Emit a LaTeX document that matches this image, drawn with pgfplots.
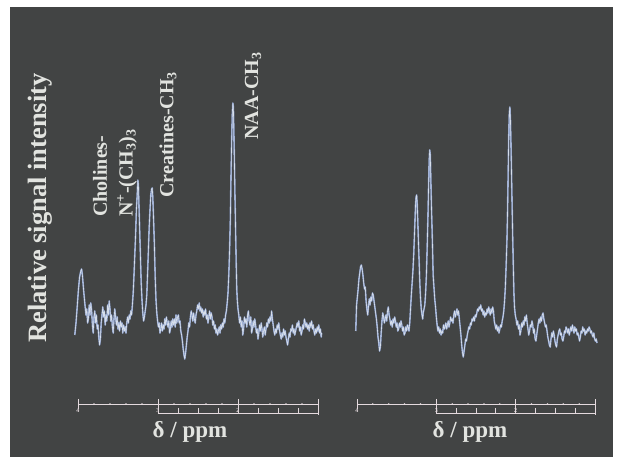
\documentclass[border=0pt]{standalone}
\usepackage{fontspec}
\setmainfont{Liberation Serif}
\usepackage{pgfplots}
\pgfplotsset{compat=1.18}
\usepackage{pgfplotstable}

\definecolor{bg}{RGB}{66,68,68}
\definecolor{txt}{RGB}{226,228,224}
\definecolor{trace}{RGB}{135,155,200}
\definecolor{traceHi}{RGB}{214,222,234}
\definecolor{rul}{RGB}{228,218,222}

% spectrum 1 (left): delta in ppm, intensity in arbitrary units
\pgfplotstableread{
ppm I
4.040 10
4.025 22
4.010 38
3.995 55
3.980 68
3.965 74
3.955 76
3.945 70
3.930 55
3.915 42
3.900 30
3.890 36
3.880 22
3.870 26
3.860 40
3.850 30
3.840 42
3.830 35
3.820 20
3.810 12
3.800 28
3.790 34
3.780 22
3.770 30
3.760 16
3.750 20
3.740 8
3.730 0
3.720 6
3.710 22
3.700 30
3.690 38
3.680 28
3.670 34
3.660 20
3.650 30
3.640 24
3.630 40
3.620 30
3.610 44
3.600 36
3.590 24
3.580 30
3.570 18
3.560 12
3.550 26
3.540 36
3.530 28
3.520 20
3.510 28
3.500 16
3.490 22
3.480 14
3.470 24
3.460 18
3.450 22
3.440 12
3.430 20
3.420 14
3.410 18
3.400 12
3.390 22
3.380 28
3.370 22
3.360 30
3.350 26
3.340 34
3.330 30
3.320 40
3.310 52
3.300 70
3.290 90
3.280 110
3.270 135
3.260 150
3.252 165
3.245 160
3.238 140
3.230 118
3.220 90
3.210 62
3.200 45
3.190 32
3.180 24
3.170 28
3.160 34
3.150 40
3.140 50
3.130 72
3.120 95
3.110 118
3.100 135
3.090 150
3.080 156
3.072 157
3.065 148
3.055 125
3.045 100
3.035 68
3.025 45
3.015 32
3.005 24
2.995 18
2.985 22
2.975 12
2.965 16
2.955 22
2.945 14
2.935 20
2.925 16
2.915 26
2.905 20
2.895 28
2.885 22
2.875 18
2.865 24
2.855 12
2.845 16
2.835 24
2.825 18
2.815 26
2.805 20
2.795 26
2.785 18
2.775 30
2.765 22
2.755 28
2.745 30
2.735 22
2.725 24
2.715 14
2.705 10
2.695 4
2.685 -4
2.675 -10
2.665 -14
2.655 -8
2.645 0
2.635 8
2.625 14
2.615 22
2.605 18
2.595 28
2.585 34
2.575 30
2.565 24
2.555 32
2.545 26
2.535 22
2.525 30
2.515 34
2.505 40
2.495 36
2.485 42
2.475 34
2.465 38
2.455 32
2.445 36
2.435 28
2.425 34
2.415 30
2.405 36
2.395 26
2.385 30
2.375 22
2.365 28
2.355 34
2.345 26
2.335 32
2.325 28
2.315 20
2.305 24
2.295 16
2.285 20
2.275 12
2.265 16
2.255 10
2.245 14
2.235 18
2.225 12
2.215 20
2.205 16
2.195 22
2.185 18
2.175 26
2.165 22
2.155 30
2.145 34
2.135 42
2.125 52
2.115 70
2.105 95
2.095 128
2.088 165
2.080 200
2.072 230
2.064 242
2.058 238
2.052 215
2.045 185
2.038 150
2.030 115
2.022 80
2.015 55
2.008 44
2.000 36
1.990 30
1.980 22
1.970 28
1.960 18
1.950 24
1.940 10
1.930 16
1.920 28
1.910 22
1.900 26
1.890 18
1.880 30
1.870 34
1.860 24
1.850 20
1.840 28
1.830 12
1.820 16
1.810 24
1.800 18
1.790 26
1.780 20
1.770 12
1.760 16
1.750 6
1.740 12
1.730 20
1.720 14
1.710 22
1.700 16
1.690 8
1.680 14
1.670 18
1.660 10
1.650 16
1.640 22
1.630 18
1.620 26
1.610 22
1.600 28
1.590 24
1.580 34
1.570 26
1.560 20
1.550 14
1.540 10
1.530 16
1.520 12
1.510 20
1.500 16
1.490 22
1.480 14
1.470 10
1.460 6
1.450 12
1.440 8
1.430 16
1.420 10
1.410 14
1.400 8
1.390 4
1.380 0
1.370 6
1.360 12
1.350 8
1.340 16
1.330 14
1.320 20
1.310 12
1.300 16
1.290 10
1.280 14
1.270 18
1.260 22
1.250 18
1.240 24
1.230 14
1.220 18
1.210 10
1.200 14
1.190 20
1.180 16
1.170 26
1.160 22
1.150 18
1.140 22
1.130 16
1.120 20
1.110 14
1.100 22
1.090 18
1.080 24
1.070 16
1.060 20
1.050 14
1.040 10
1.030 16
1.020 12
1.010 18
1.000 14
0.990 20
0.980 12
0.970 16
0.960 8
0.955 12
}\specA

% spectrum 2 (right)
\pgfplotstableread{
ppm I
4.015 14
4.005 40
3.995 48
3.985 56
3.975 66
3.965 72
3.955 78
3.945 80
3.935 76
3.925 70
3.915 62
3.905 56
3.895 58
3.885 44
3.875 36
3.865 30
3.855 38
3.845 46
3.835 40
3.825 48
3.815 44
3.805 52
3.795 50
3.785 44
3.775 38
3.765 32
3.755 26
3.745 18
3.735 8
3.725 2
3.715 -6
3.705 -2
3.695 12
3.685 24
3.675 32
3.665 28
3.655 22
3.645 26
3.635 30
3.625 24
3.615 34
3.605 38
3.595 30
3.585 26
3.575 20
3.565 24
3.555 18
3.545 26
3.535 22
3.525 28
3.515 24
3.505 18
3.495 22
3.485 14
3.475 16
3.465 22
3.455 18
3.445 24
3.435 20
3.425 14
3.415 18
3.405 10
3.395 12
3.385 18
3.375 14
3.365 20
3.355 18
3.345 14
3.335 22
3.325 36
3.315 50
3.305 62
3.295 74
3.285 90
3.278 105
3.270 122
3.262 140
3.255 148
3.248 150
3.240 140
3.232 120
3.224 100
3.216 82
3.208 62
3.200 48
3.190 36
3.180 30
3.172 26
3.165 32
3.155 36
3.145 40
3.135 52
3.125 70
3.115 98
3.105 130
3.097 160
3.090 185
3.083 195
3.076 190
3.069 165
3.062 140
3.055 120
3.047 95
3.040 70
3.030 58
3.020 46
3.010 38
3.000 28
2.990 20
2.980 14
2.970 18
2.960 12
2.950 16
2.940 10
2.930 14
2.920 12
2.910 20
2.900 16
2.890 18
2.880 22
2.870 16
2.860 20
2.850 24
2.840 18
2.830 22
2.820 28
2.810 24
2.800 26
2.790 22
2.780 30
2.770 34
2.760 28
2.750 32
2.740 36
2.730 30
2.720 34
2.710 26
2.700 18
2.690 10
2.680 0
2.670 -8
2.660 -12
2.650 -6
2.640 0
2.630 6
2.620 4
2.610 10
2.600 14
2.590 18
2.580 16
2.570 22
2.560 20
2.550 26
2.540 24
2.530 28
2.520 24
2.510 30
2.500 28
2.490 32
2.480 36
2.470 34
2.460 38
2.450 36
2.440 40
2.430 34
2.420 36
2.410 30
2.400 34
2.390 28
2.380 32
2.370 30
2.360 36
2.350 32
2.340 38
2.330 34
2.320 30
2.310 36
2.300 32
2.290 38
2.280 34
2.270 24
2.260 20
2.250 16
2.240 20
2.230 14
2.220 18
2.210 12
2.200 16
2.190 20
2.180 18
2.170 24
2.160 28
2.150 34
2.140 44
2.130 58
2.120 80
2.110 105
2.102 135
2.094 175
2.087 210
2.080 232
2.073 238
2.066 225
2.059 200
2.052 170
2.045 140
2.038 110
2.030 80
2.022 52
2.015 38
2.005 30
1.995 26
1.985 20
1.975 24
1.965 16
1.955 20
1.945 10
1.935 14
1.925 22
1.915 18
1.905 24
1.895 20
1.885 28
1.875 24
1.865 30
1.855 22
1.845 16
1.835 10
1.825 14
1.815 20
1.805 18
1.795 24
1.785 20
1.775 12
1.765 16
1.755 6
1.745 4
1.735 10
1.725 16
1.715 22
1.705 26
1.695 22
1.685 28
1.675 24
1.665 30
1.655 32
1.645 26
1.635 22
1.625 18
1.615 20
1.605 14
1.595 8
1.585 4
1.575 0
1.565 -2
1.555 6
1.545 12
1.535 8
1.525 14
1.515 10
1.505 4
1.495 0
1.485 -2
1.475 6
1.465 10
1.455 14
1.445 16
1.435 10
1.425 12
1.415 6
1.405 4
1.395 8
1.385 14
1.375 12
1.365 18
1.355 16
1.345 12
1.335 16
1.325 10
1.315 14
1.305 18
1.295 14
1.285 20
1.275 16
1.265 12
1.255 18
1.245 14
1.235 16
1.225 10
1.215 12
1.205 8
1.195 4
1.185 8
1.175 14
1.165 12
1.155 18
1.145 14
1.135 16
1.125 10
1.115 14
1.105 12
1.095 16
1.085 14
1.075 18
1.065 16
1.055 12
1.045 14
1.035 10
1.025 8
1.015 12
1.005 6
0.995 4
0.985 6
0.975 2
}\specB

\pgfplotsset{
  specaxis/.style={
    axis lines=none, scale only axis,
    height=250pt,
    x dir=reverse, xmin=0.95, xmax=4.05,
    ymin=0, ymax=250,
    clip=false, anchor=south west,
  },
}
\tikzset{ruler/.style={rul, line width=0.8pt}}

% ppm ruler drawn under each spectrum
\newcommand{\ppmruler}{%
  \draw[ruler] (axis cs:4,-59) -- (axis cs:1,-59);
  \draw[ruler] (axis cs:3,-68) -- (axis cs:1,-68);
  \pgfplotsinvokeforeach{4,3,2,1}{\draw[ruler] (axis cs:##1,-54) -- (axis cs:##1,-64);}
  \draw[ruler] (axis cs:3,-59) -- (axis cs:3,-68);
  \draw[ruler] (axis cs:1,-59) -- (axis cs:1,-70);
  \pgfplotsinvokeforeach{3.8,3.6,3.4,3.2,2.8,2.6,2.4,2.2,1.8,1.6,1.4,1.2}{\fill[rul] (axis cs:##1,-59) circle (0.9pt);}
  \pgfplotsinvokeforeach{2.75,2.5,2.25,2,1.75,1.5,1.25}{\draw[ruler] (axis cs:##1,-68) -- (axis cs:##1,-63);}
  \pgfplotsinvokeforeach{4,3,2}{\node[rul, font=\fontsize{6}{6}\selectfont\bfseries, inner sep=0pt] at (axis cs:##1,-66) {##1};}
}

\begin{document}
\begin{tikzpicture}
\fill[white] (0pt,0pt) rectangle (618pt,457pt);
\fill[bg] (10pt,0pt) rectangle (613pt,450pt);

\begin{axis}[specaxis, at={(74pt,112pt)}, width=248pt]
\addplot[trace, line width=1.6pt, line join=round] table[x=ppm, y=I] {\specA};
\addplot[traceHi, line width=0.6pt, line join=round] table[x=ppm, y=I] {\specA};
\ppmruler
\end{axis}

\begin{axis}[specaxis, at={(353pt,112pt)}, width=246pt]
\addplot[trace, line width=1.6pt, line join=round] table[x=ppm, y=I] {\specB};
\addplot[traceHi, line width=0.6pt, line join=round] table[x=ppm, y=I] {\specB};
\ppmruler
\end{axis}

% labels
\node[txt, rotate=90, font=\fontsize{26.5}{30}\selectfont\bfseries] at (40pt,249pt) {Relative signal intensity};
\node[txt, font=\fontsize{23}{26}\selectfont\bfseries] at (190pt,25pt) {δ / ppm};
\node[txt, font=\fontsize{23}{26}\selectfont\bfseries] at (470pt,25pt) {δ / ppm};

\begin{scope}[every node/.style={txt, rotate=90, anchor=west, inner sep=0pt, font=\fontsize{20}{22}\selectfont\bfseries}]
\node at (100pt,240pt) {Cholines-};
\node at (127pt,240pt) {N\textsuperscript{+}-(CH\textsubscript{3})\textsubscript{3}};
\node at (168pt,259pt) {Creatines-CH\textsubscript{3}};
\node at (253pt,317pt) {NAA-CH\textsubscript{3}};
\end{scope}
\end{tikzpicture}
\end{document}
